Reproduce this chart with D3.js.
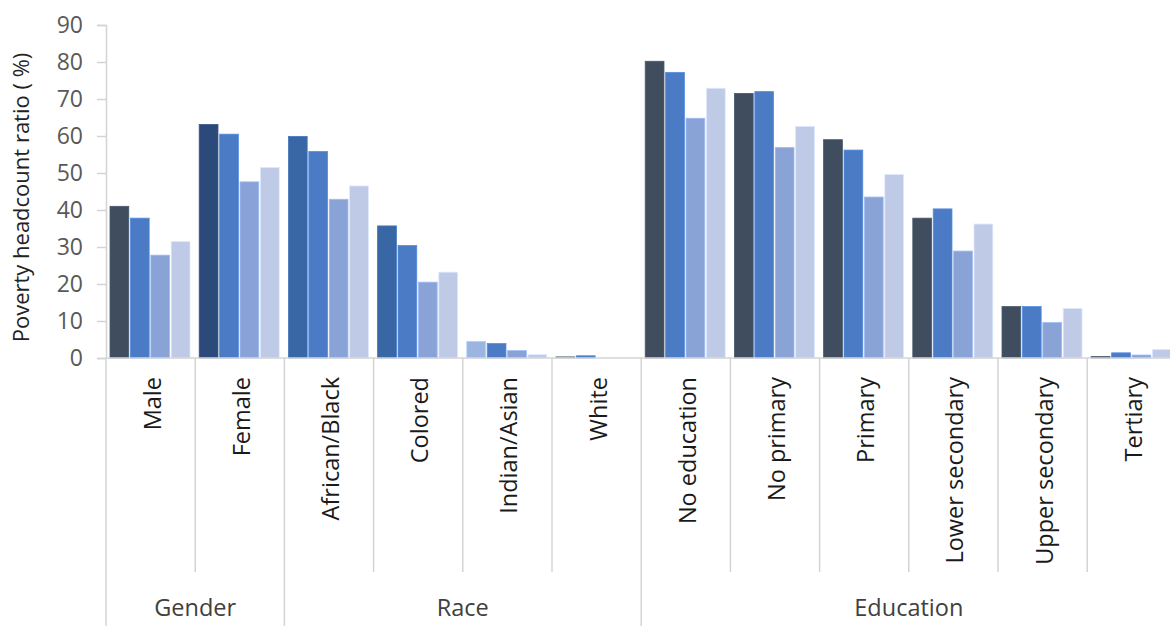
<!DOCTYPE html>
<html><head><meta charset="utf-8">
<script src="https://cdn.jsdelivr.net/npm/d3@7"></script>
<style>body{margin:0;background:#fff;} svg{display:block;}</style>
</head><body>
<svg id="c" width="1170" height="626"></svg>
<script>
const categories = ["Male","Female","African/Black","Colored","Indian/Asian","White","No education","No primary","Primary","Lower secondary","Upper secondary","Tertiary"];
const groups = [{name:"Gender",from:0,to:2},{name:"Race",from:2,to:6},{name:"Education",from:6,to:12}];
const series1 = [41,63.1,59.9,35.7,4.5,0.4,80.2,71.5,59,37.8,13.9,0.4];
const series2 = [37.8,60.5,55.8,30.4,3.9,0.6,77.2,72,56.2,40.3,13.9,1.4];
const series3 = [27.8,47.6,42.9,20.5,2.0,0,64.8,56.9,43.5,28.9,9.6,0.8];
const series4 = [31.5,51.5,46.5,23.2,0.9,0,72.9,62.6,49.6,36.2,13.4,2.3];
const yTicks = [0,10,20,30,40,50,60,70,80,90];
const seriesColors = ["#3f4d5e","#4a7bc4","#8aa3d6","#bfcae6"];
const firstBarColors = ["#3f4d5e","#2b4a7a","#3967a6","#3967a6","#9ab5e0","#808890","#3f4d5e","#3f4d5e","#3f4d5e","#3f4d5e","#3f4d5e","#3f4d5e"];

(function(){
const svg = d3.select("#c");
const mLeft = 106, mTop = 25, mBottom = 358;
const catW = 89.2;
const x = d3.scaleBand().domain(categories).range([mLeft, mLeft + catW*categories.length]).padding(0);
const y = d3.scaleLinear().domain([0,90]).range([mBottom, mTop]);
const inner = d3.scaleBand().domain([0,1,2,3]).range([4, 84]).paddingInner(0.08);
const FONT = "'Open Sans', 'Noto Sans', sans-serif";

const yAxis = svg.append("g").attr("transform",`translate(${mLeft},0)`)
  .call(d3.axisLeft(y).tickValues(yTicks).tickSize(9).tickPadding(14));
yAxis.select(".domain").attr("stroke","#d4d4d4").attr("stroke-width",1.5);
yAxis.selectAll(".tick line").attr("stroke","#d4d4d4").attr("stroke-width",1.5);
yAxis.selectAll(".tick text").attr("fill","#595959").style("font-family",FONT).style("font-size","23px");

svg.append("text").attr("transform",`translate(29,${(mTop+mBottom)/2+6}) rotate(-90)`)
  .attr("text-anchor","middle").attr("fill","#222").style("font-family",FONT).style("font-size","22px")
  .text("Poverty headcount ratio ( %)");

const seriesVals = [series1,series2,series3,series4];
const barData = [];
categories.forEach((c,i)=>{
  seriesVals.forEach((s,k)=>{ barData.push({c,k,v:s[i],col: k===0?firstBarColors[i]:seriesColors[k]}); });
});
svg.append("g").selectAll("rect").data(barData).join("rect")
  .attr("x",d=>x(d.c)+inner(d.k))
  .attr("width",inner.bandwidth())
  .attr("y",d=>y(d.v))
  .attr("height",d=>y(0)-y(d.v))
  .attr("fill",d=>d.col)
  .attr("stroke",d=>d3.color(d.col).brighter(0.4))
  .attr("stroke-width",0.8);

svg.append("line").attr("x1",mLeft).attr("x2",mLeft+catW*categories.length).attr("y1",mBottom).attr("y2",mBottom)
  .attr("stroke","#d4d4d4").attr("stroke-width",1.5);

const groupEdges = new Set();
groups.forEach(g=>{groupEdges.add(g.from); groupEdges.add(g.to);});
d3.range(categories.length+1).forEach(i=>{
  const xx = mLeft + catW*i;
  svg.append("line").attr("x1",xx).attr("x2",xx).attr("y1",mBottom)
    .attr("y2", groupEdges.has(i)?626:572)
    .attr("stroke","#d4d4d4").attr("stroke-width",1.5);
});

svg.append("g").selectAll("text").data(categories).join("text")
  .attr("transform",d=>`translate(${x(d)+x.bandwidth()/2+10},377) rotate(-90)`)
  .attr("text-anchor","end").attr("fill","#1a1a1a")
  .style("font-family",FONT).style("font-size","23.5px").text(d=>d);

svg.append("g").selectAll("text").data(groups).join("text")
  .attr("x",d=>mLeft+catW*(d.from+d.to)/2).attr("y",616)
  .attr("text-anchor","middle").attr("fill","#404040")
  .style("font-family",FONT).style("font-size","23.5px").text(d=>d.name);
})();
</script>
</body></html>
